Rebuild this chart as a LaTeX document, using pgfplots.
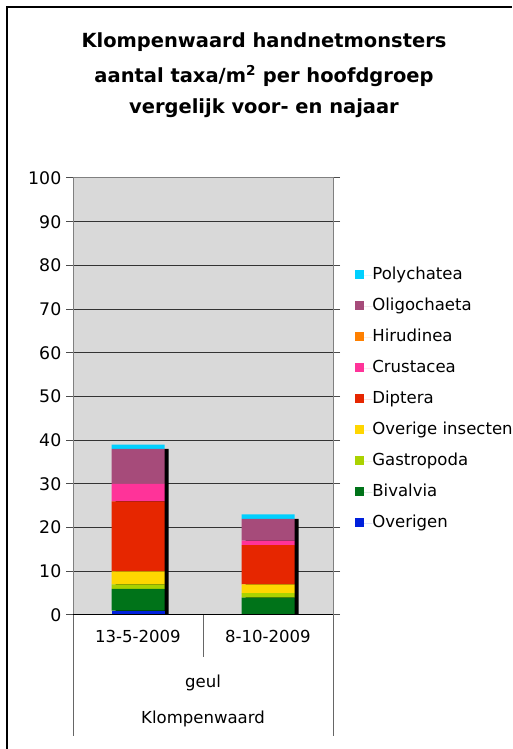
\documentclass[border=0pt]{standalone}
\usepackage{fontspec}
\setmainfont{DejaVu Sans}
\usepackage{pgfplots}
\pgfplotsset{compat=1.18}
\definecolor{plotgray}{RGB}{217,217,217}
\definecolor{cPoly}{RGB}{0,208,255}
\definecolor{cOligo}{RGB}{166,75,122}
\definecolor{cHiru}{RGB}{255,128,0}
\definecolor{cCrus}{RGB}{255,51,153}
\definecolor{cDipt}{RGB}{230,38,0}
\definecolor{cIns}{RGB}{255,214,0}
\definecolor{cGast}{RGB}{170,210,0}
\definecolor{cBiv}{RGB}{0,115,25}
\definecolor{cOver}{RGB}{0,32,220}

\newcommand{\lbl}{\fontsize{12.4pt}{14.5pt}\selectfont}

\begin{document}
\begin{tikzpicture}[x=0.75pt,y=0.75pt]
\useasboundingbox (0,0) rectangle (512,749);
\fill[white] (0,0) rectangle (512,749);
\draw[line width=1.5pt] (7,0) -- (7,742) -- (512,742);

% title
\node[font=\fontsize{14.6pt}{17pt}\selectfont\bfseries] at (264,707) {Klompenwaard handnetmonsters};
\node[font=\fontsize{14.6pt}{17pt}\selectfont\bfseries] at (264,673) {aantal taxa/m\textsuperscript{2} per hoofdgroep};
\node[font=\fontsize{14.6pt}{17pt}\selectfont\bfseries] at (264,641) {vergelijk voor- en najaar};

% background, grid and bar shadows
\begin{axis}[
  at={(54.75pt,100.5pt)}, anchor=south west,
  scale only axis, width=195pt, height=327.75pt,
  xmin=-0.5, xmax=1.5, ymin=0, ymax=100,
  ytick={0,10,...,100}, xtick=\empty,
  axis background/.style={fill=plotgray},
  ymajorgrids, grid style={black!80, line width=0.75pt},
  axis line style={black!50, line width=0.75pt},
  tick align=outside, major tick length=5.25pt,
  y tick style={black!70, line width=0.75pt},
  yticklabel style={font=\fontsize{13pt}{15pt}\selectfont},
  /pgf/number format/assume math mode=true,
]
\addplot[ybar, bar width=39.75pt, bar shift=3pt, fill=black, draw=none]
  coordinates {(0,38) (1,22)};
\end{axis}

% stacked bars
\begin{axis}[
  at={(54.75pt,100.5pt)}, anchor=south west,
  scale only axis, width=195pt, height=327.75pt,
  xmin=-0.5, xmax=1.5, ymin=0, ymax=100,
  hide axis,
  ybar stacked, bar width=39.75pt,
  reverse legend,
  legend cell align=left,
  legend style={at={(1.085,0.794)}, anchor=north west, draw=none, fill=none,
    inner sep=0pt, row sep=12.4pt, font=\lbl,
    nodes={inner sep=0pt, text height=8.5pt, text depth=2.35pt}},
  legend image code/.code={
    \path[#1, draw=none] (0pt,-2.25pt) rectangle (6.75pt,4.5pt);
    \path (0pt,0pt) -- (12.75pt,0pt);
  },
]
\addplot[fill=cOver, draw=none] coordinates {(0,1) (1,0)};
\addplot[fill=cBiv, draw=none] coordinates {(0,5) (1,4)};
\addplot[fill=cGast, draw=none] coordinates {(0,1) (1,1)};
\addplot[fill=cIns, draw=none] coordinates {(0,3) (1,2)};
\addplot[fill=cDipt, draw=none] coordinates {(0,16) (1,9)};
\addplot[fill=cCrus, draw=none] coordinates {(0,4) (1,1)};
\addplot[fill=cHiru, draw=none] coordinates {(0,0) (1,0)};
\addplot[fill=cOligo, draw=none] coordinates {(0,8) (1,5)};
\addplot[fill=cPoly, draw=none] coordinates {(0,1) (1,1)};
\legend{Overigen, Bivalvia, Gastropoda, Overige insecten, Diptera, Crustacea, Hirudinea, Oligochaeta, Polychatea}
\end{axis}

% category axis
\draw[black, line width=0.75pt] (73,134) -- (333,134);
\draw[black!60, line width=0.75pt] (73,134) -- (73,13);
\draw[black!60, line width=0.75pt] (203,134) -- (203,92);
\draw[black!60, line width=0.75pt] (333,134) -- (333,13);
\node[font=\lbl] at (138,113) {13-5-2009};
\node[font=\lbl] at (268,113) {8-10-2009};
\node[font=\lbl] at (203,66) {geul};
\node[font=\lbl] at (203,30) {Klompenwaard};
\end{tikzpicture}
\end{document}
